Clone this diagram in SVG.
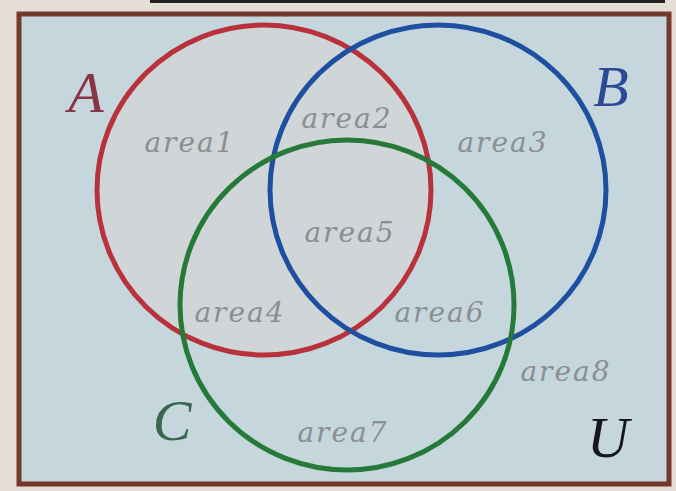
<svg xmlns="http://www.w3.org/2000/svg" width="676" height="491" viewBox="0 0 676 491">
<style>
.area{font-family:"DejaVu Serif","Liberation Serif",serif;font-style:italic;font-size:28px;fill:#8c8e92;letter-spacing:2px;text-anchor:middle}
.lab{font-family:"Liberation Serif",serif;font-style:italic;font-size:58px;text-anchor:middle}
.ring{fill:none;stroke-width:5}
</style>
<rect x="0" y="0" width="676" height="491" fill="#e6ddd4"/>
<rect x="150" y="0" width="515" height="3" fill="#222"/>
<rect x="19" y="14" width="650" height="470" fill="#c5d7dd" stroke="#74382c" stroke-width="5"/>
<g id="fills">
<ellipse cx="264" cy="190" rx="167" ry="165" fill="#d2d4d6" opacity="0.8"/>
</g>
<g id="connectors"></g>
<g id="setA">
<ellipse class="ring" cx="264" cy="190" rx="167" ry="165" stroke="#b8323c"/>
<text class="lab" x="86" y="112" fill="#8a3448">A</text>
</g>
<g id="setB">
<ellipse class="ring" cx="438" cy="190" rx="168" ry="165" stroke="#1e4fa0"/>
<text class="lab" x="611" y="106" fill="#2a4a96">B</text>
</g>
<g id="setC">
<ellipse class="ring" cx="347" cy="305" rx="167" ry="165" stroke="#257a3a"/>
<text class="lab" x="172" y="440" fill="#3a6650">C</text>
</g>
<g id="universe">
<text class="lab" x="608" y="457" fill="#15171c">U</text>
</g>
<g id="labels">
<text class="area" x="190" y="152">area1</text>
<text class="area" x="347" y="128">area2</text>
<text class="area" x="503" y="152">area3</text>
<text class="area" x="350" y="242">area5</text>
<text class="area" x="240" y="322">area4</text>
<text class="area" x="440" y="322">area6</text>
<text class="area" x="566" y="381">area8</text>
<text class="area" x="343" y="442">area7</text>
</g>
</svg>
